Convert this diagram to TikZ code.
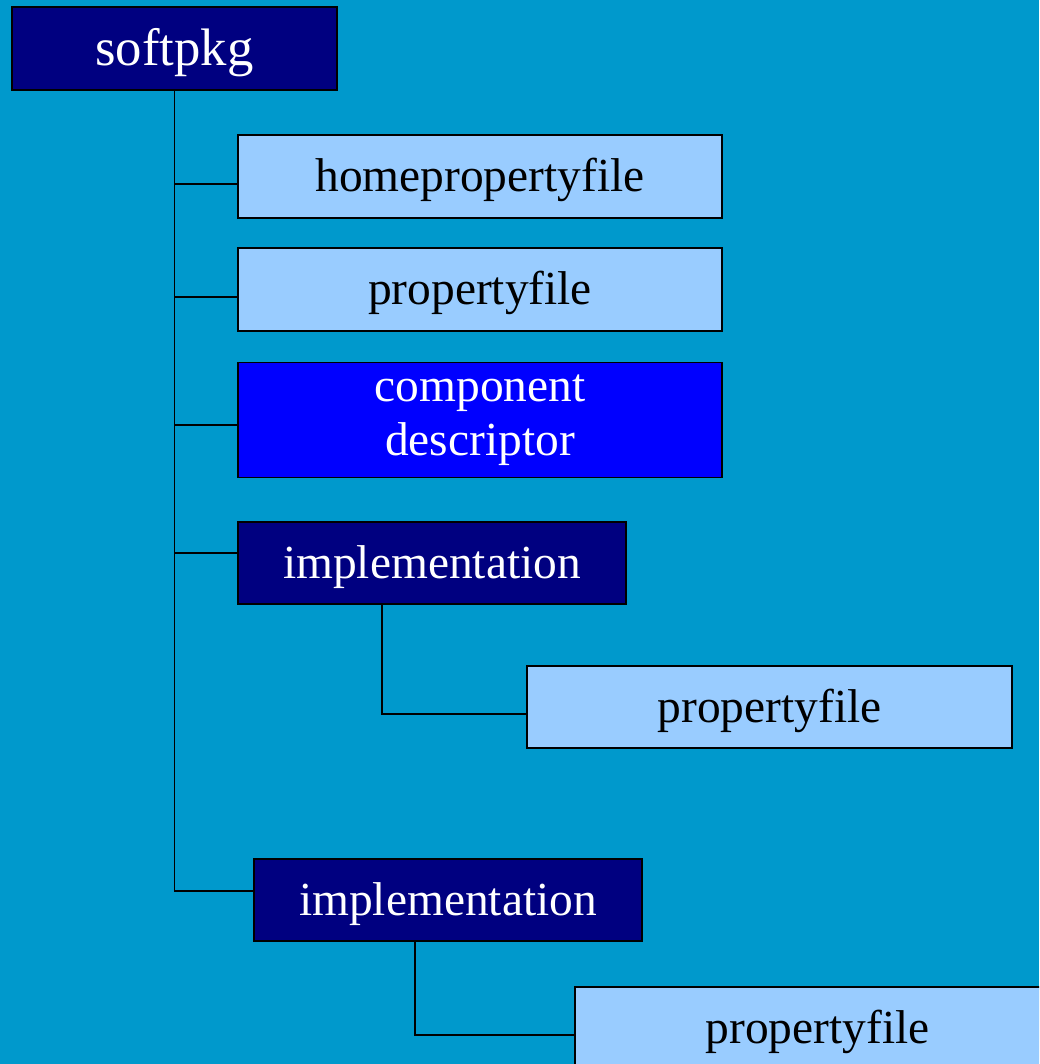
\documentclass[tikz,border=0pt]{standalone}
\usepackage{fontspec}
\setmainfont{Liberation Serif}
\usetikzlibrary{calc}
\definecolor{bgblue}{RGB}{0,153,204}
\definecolor{navy}{RGB}{0,0,128}
\definecolor{pureblue}{RGB}{0,0,255}
\definecolor{paleblue}{RGB}{153,204,255}
\begin{document}
\begin{tikzpicture}[line join=miter,x=0.02cm,y=-0.02cm,line width=1.1pt]
\tikzset{box/.style={draw=black,inner sep=0pt,align=center,font=\fontsize{27}{31}\selectfont},
oneline/.style={text height=0.65cm,text depth=0.05cm},
lightbox/.style={box,oneline,fill=paleblue,text=black,minimum width=9.7cm,minimum height=1.65cm},
navybox/.style={box,oneline,fill=navy,text=white,minimum width=7.76cm,minimum height=1.65cm},
bluebox/.style={box,fill=pureblue,text=white,minimum width=9.7cm,minimum height=2.3cm}}
\fill[bgblue] (0,0) rectangle (1039,1064);
\clip (0,0) rectangle (1039,1064);
\node[navybox,minimum width=6.5cm,font=\fontsize{30}{34}\selectfont,text height=0.72cm] (softpkg) at (174.5,48.5) {softpkg};
\node[lightbox] (home) at (480,176.5) {homepropertyfile};
\node[lightbox] (prop) at (480,289.5) {propertyfile};
\node[bluebox] (comp) at (480,420) {component\\descriptor};
\node[navybox] (implA) at (432,563) {implementation};
\node[lightbox] (propA) at (769.5,707) {propertyfile};
\node[navybox] (implB) at (448,900) {implementation};
\node[lightbox] (propB) at (817.5,1028) {propertyfile};
\draw (softpkg.south) |- ($(home.west)+(0,7.5)$);
\draw (softpkg.south) |- ($(prop.west)+(0,7.5)$);
\draw (softpkg.south) |- ($(comp.west)+(0,5)$);
\draw (softpkg.south) |- ($(implA.west)+(0,-10)$);
\draw (softpkg.south) |- ($(implB.west)+(0,-9)$);
\draw ($(implA.south)+(-50,0)$) |- ($(propA.west)+(0,7)$);
\draw ($(implB.south)+(-33,0)$) |- ($(propB.west)+(0,7)$);
\end{tikzpicture}
\end{document}
